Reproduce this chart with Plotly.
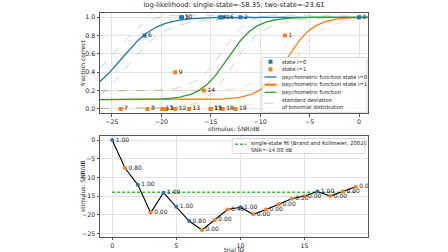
import numpy as np
import plotly.graph_objects as go

# ---------------- data ----------------
trial_id = list(range(20))
snr_db = [0.0, -7.5, -12.0, -19.5, -14.1, -17.9, -21.7, -24.1, -21.4, -18.6,
          -18.0, -19.9, -18.6, -17.2, -15.7, -15.0, -13.8, -15.0, -13.8, -12.5]
fraction_correct = [1.0, 0.8, 1.0, 0.0, 1.0, 1.0, 0.8, 0.0, 0.0, 0.4,
                    1.0, 0.0, 0.0, 0.0, 0.2, 0.0, 1.0, 0.0, 0.0, 0.0]
state = [0, 1, 0, 1, 0, 0, 0, 1, 1, 1, 0, 1, 1, 1, 1, 1, 0, 1, 1, 1]

guess_rate = 0.1
n_items = 10
midpoint_state0, slope_state0 = -24.0, 1.75
midpoint_state1, slope_state1 = -7.3, 1.35
midpoint_single, slope_single = -13.3, 1.4
srt_single = -14.00
loglik_single, loglik_two = -58.35, -23.61

top_x_ticks = [-25, -20, -15, -10, -5, 0]
top_y_ticks = [0.0, 0.2, 0.4, 0.6, 0.8, 1.0]
bot_x_ticks = [0, 5, 10, 15]
bot_y_ticks = [0, -5, -10, -15, -20, -25]

legend_top_labels = ["state i=0", "state i=1", "psychometric function state i=0",
                     "psychometric function state i=1", "psychometric function",
                     "standard deviation<br>of binomial distribution"]
legend_bot_label = f"single-state fit (Brand and Kollmeier, 2002):<br>SNR={srt_single:.2f} dB"

# ---------------- styling ----------------
BLUE = "#1f77b4"
ORANGE = "#ff7f0e"
GREEN = "#2ca02c"
FONT = "DejaVu Sans"
TXT = "#222222"
W, H = 448, 252

def px(x):
    return x / W

def py(y):
    return 1 - y / H

def psy(x, m, s):
    return guess_rate + (1 - guess_rate) / (1 + np.exp(-(x - m) / s))

xr = (-26.2, 0.9)
xs = np.linspace(xr[0], xr[1], 300)

fig = go.Figure()

def add_curve(m, s, faint):
    p = psy(xs, m, s)
    sd = np.sqrt(p * (1 - p) / n_items)
    for sign in (1, -1):
        fig.add_trace(go.Scatter(x=xs, y=p + sign * sd, mode="lines",
                                 line=dict(color=faint, width=1, dash="dash"),
                                 showlegend=False, hoverinfo="skip",
                                 xaxis="x", yaxis="y"))
    return p

p0 = add_curve(midpoint_state0, slope_state0, "rgba(31,119,180,0.3)")
p1 = add_curve(midpoint_state1, slope_state1, "rgba(255,127,14,0.3)")
pg = add_curve(midpoint_single, slope_single, "rgba(44,160,44,0.3)")

snr = np.array(snr_db)
frac = np.array(fraction_correct)
st = np.array(state)
ids = np.array(trial_id)

fig.add_trace(go.Scatter(x=xs, y=p0, mode="lines", line=dict(color=BLUE, width=1.3),
                         showlegend=False, xaxis="x", yaxis="y"))
fig.add_trace(go.Scatter(x=xs, y=p1, mode="lines", line=dict(color=ORANGE, width=1.3),
                         showlegend=False, xaxis="x", yaxis="y"))
fig.add_trace(go.Scatter(x=xs, y=pg, mode="lines", line=dict(color=GREEN, width=1.3),
                         showlegend=False, xaxis="x", yaxis="y"))

for s_val, col in ((0, BLUE), (1, ORANGE)):
    msk = st == s_val
    fig.add_trace(go.Scatter(x=snr[msk], y=frac[msk], mode="markers+text",
                             marker=dict(symbol="square", size=4, color=col),
                             text=[str(i) for i in ids[msk]],
                             textposition="middle right",
                             textfont=dict(size=6, color=TXT, family=FONT),
                             showlegend=False, xaxis="x", yaxis="y"))

# bottom plot
fig.add_trace(go.Scatter(x=[trial_id[0], trial_id[-1]], y=[srt_single, srt_single],
                         mode="lines", line=dict(color="#3cb83c", width=1.4, dash="3px,2px"),
                         showlegend=False, xaxis="x2", yaxis="y2"))
fig.add_trace(go.Scatter(x=ids, y=snr, mode="lines", line=dict(color="black", width=1.1),
                         showlegend=False, xaxis="x2", yaxis="y2"))
fig.add_trace(go.Scatter(x=ids, y=snr, mode="markers+text",
                         marker=dict(symbol="circle", size=4,
                                     color=[BLUE if s == 0 else ORANGE for s in state]),
                         text=[f"{f:.2f}" for f in fraction_correct],
                         textposition="middle right",
                         textfont=dict(size=6, color=TXT, family=FONT),
                         showlegend=False, xaxis="x2", yaxis="y2"))

# ---------------- manual legends ----------------
shapes = []
annotations = []
shapes.append(dict(type="rect", xref="paper", yref="paper", layer="above",
                   x0=px(262), x1=px(367), y0=py(112.3), y1=py(57.5),
                   fillcolor="rgba(255,255,255,0.85)", line=dict(color="#d0d0d0", width=0.8)))
rows = [61.7, 69.3, 77.0, 84.7, 92.3, 103.2]
hx0, hx1 = 264.5, 276.5
hmid = (hx0 + hx1) / 2
for yy, col in zip(rows[:2], (BLUE, ORANGE)):
    shapes.append(dict(type="rect", xref="paper", yref="paper", layer="above",
                       x0=px(hmid - 2), x1=px(hmid + 2), y0=py(yy + 2), y1=py(yy - 2),
                       fillcolor=col, line=dict(width=0)))
for yy, col, wd, dash in ((rows[2], BLUE, 1.3, "solid"), (rows[3], ORANGE, 2.2, "solid"),
                          (rows[4], GREEN, 1.3, "solid"),
                          (rows[5], "rgba(170,170,170,0.6)", 1, "dash")):
    shapes.append(dict(type="line", xref="paper", yref="paper", layer="above",
                       x0=px(hx0), x1=px(hx1), y0=py(yy), y1=py(yy),
                       line=dict(color=col, width=wd, dash=dash)))
for yy, lab in zip(rows, legend_top_labels):
    annotations.append(dict(xref="paper", yref="paper", x=px(280), y=py(yy),
                            xanchor="left", yanchor="middle", align="left",
                            text=lab, showarrow=False,
                            font=dict(size=5.3, color=TXT, family=FONT)))
shapes.append(dict(type="rect", xref="paper", yref="paper", layer="above",
                   x0=px(232.3), x1=px(365), y0=py(153.5), y1=py(138.5),
                   fillcolor="rgba(255,255,255,0.85)", line=dict(color="#d0d0d0", width=0.8)))
shapes.append(dict(type="line", xref="paper", yref="paper", layer="above",
                   x0=px(235), x1=px(246.5), y0=py(144.3), y1=py(144.3),
                   line=dict(color="#3cb83c", width=1.4, dash="3px,2px")))
annotations.append(dict(xref="paper", yref="paper", x=px(249), y=py(146),
                        xanchor="left", yanchor="middle", align="left",
                        text=legend_bot_label, showarrow=False,
                        font=dict(size=5.3, color=TXT, family=FONT)))

annotations += [
    dict(xref="paper", yref="paper", x=px(234), y=py(128), text="stimulus: SNR/dB",
         showarrow=False, xanchor="center", yanchor="middle",
         font=dict(size=6, color=TXT, family=FONT)),
    dict(xref="paper", yref="paper", x=px(234), y=py(249.5), text="trial ID",
         showarrow=False, xanchor="center", yanchor="middle",
         font=dict(size=6, color=TXT, family=FONT)),
    dict(xref="paper", yref="paper", x=px(82), y=py(63), text="fraction correct",
         showarrow=False, xanchor="center", yanchor="middle", textangle=-90,
         font=dict(size=6, color=TXT, family=FONT)),
    dict(xref="paper", yref="paper", x=px(82), y=py(186), text="stimulus: SNR/dB",
         showarrow=False, xanchor="center", yanchor="middle", textangle=-90,
         font=dict(size=6, color=TXT, family=FONT)),
]

xdom = [px(100), px(368)]
axis_common = dict(showgrid=True, gridcolor="#e3e3e3", gridwidth=1, zeroline=False,
                   showline=True, mirror=True, linecolor="#555", linewidth=1,
                   ticks="outside", ticklen=2.5, tickwidth=1, tickcolor="#555",
                   tickfont=dict(size=6.3, color=TXT, family=FONT))

fig.update_layout(
    width=W, height=H, margin=dict(l=0, r=0, t=0, b=0),
    plot_bgcolor="white", paper_bgcolor="white", showlegend=False,
    font=dict(family=FONT, size=6.3, color=TXT),
    xaxis=dict(domain=xdom, range=list(xr), tickvals=top_x_ticks, anchor="y", **axis_common),
    yaxis=dict(domain=[py(113), py(12.7)], range=[-0.045, 1.05],
               tickvals=top_y_ticks, ticktext=[f"{v:.1f}" for v in top_y_ticks], anchor="x",
               **axis_common),
    xaxis2=dict(domain=xdom, range=[-0.95, 19.95], tickvals=bot_x_ticks, anchor="y2",
                **axis_common),
    yaxis2=dict(domain=[py(236.7), py(136)], range=[-25.9, 1.1],
                tickvals=bot_y_ticks, anchor="x2", **axis_common),
    title=dict(text=f"log-likelihood: single-state={loglik_single}, two-state={loglik_two}",
               x=px(234), xanchor="center", y=py(5), yanchor="middle",
               font=dict(size=6.8, color=TXT, family=FONT)),
    shapes=shapes, annotations=annotations,
)

fig.write_html("out.html", config={"displayModeBar": False, "staticPlot": True},
               post_script="document.body.style.margin='0';document.body.style.overflow='hidden';")
